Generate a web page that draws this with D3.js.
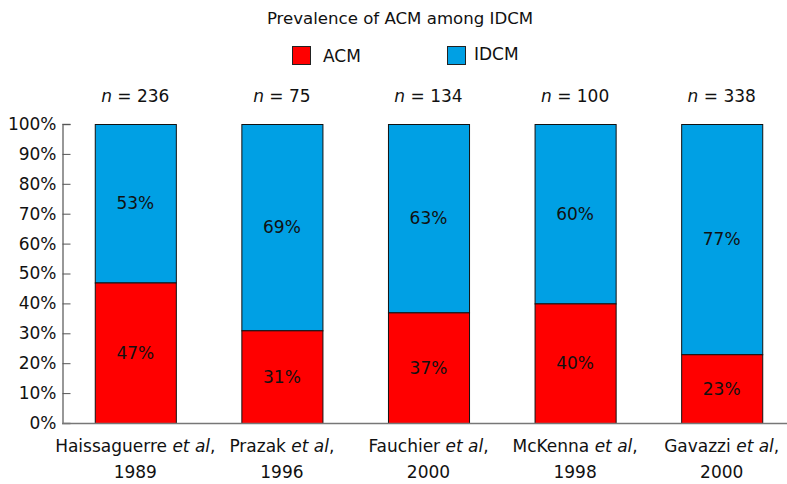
<!DOCTYPE html>
<html>
<head>
<meta charset="utf-8">
<script src="https://cdn.jsdelivr.net/npm/d3@7"></script>
<style>
body{margin:0;background:#fff;}
svg text{font-family:"DejaVu Sans",Verdana,sans-serif;fill:#111;}
</style>
</head>
<body>
<div id="container"></div>
<script>
var studies = ['Haissaguerre', 'Prazak', 'Fauchier', 'McKenna', 'Gavazzi'];
var years = ['1989', '1996', '2000', '1998', '2000'];
var nValues = [236, 75, 134, 100, 338];
var acm = [47, 31, 37, 40, 23];
var idcm = [53, 69, 63, 60, 77];
var yTicks = [0, 10, 20, 30, 40, 50, 60, 70, 80, 90, 100];

var colors = {acm:'#FF0000', idcm:'#00A0E4'};

var w = 787, h = 484;
var margin = {top:124, left:62, bottom:61};

var svg = d3.select('#container').append('svg')
	.attr('width', w)
	.attr('height', h);

var x = d3.scaleBand()
	.domain(studies)
	.range([margin.left, margin.left + 5*146.6])
	.paddingInner(0.447)
	.paddingOuter(0.2235);

var y = d3.scaleLinear()
	.domain([0, 100])
	.range([h - margin.bottom, margin.top]);

// title + legend
svg.append('text')
	.attr('x', 400).attr('y', 24)
	.attr('text-anchor', 'middle')
	.style('font-size', '16.6px')
	.text('Prevalence of ACM among IDCM');

var legend = [
	{name:'ACM', color:colors.acm, x:292},
	{name:'IDCM', color:colors.idcm, x:447}
];
var lg = svg.selectAll('g.legend').data(legend).enter().append('g')
	.classed('legend', true);
lg.append('rect')
	.attr('x', function(d){ return d.x + 0.5; })
	.attr('y', 46.5)
	.attr('width', 18).attr('height', 18)
	.style('fill', function(d){ return d.color; })
	.style('stroke', '#222');
lg.append('text')
	.attr('x', function(d, i){ return d.x + (i ? 27 : 31); })
	.attr('y', function(d, i){ return i ? 60 : 62; })
	.style('font-size', '17px')
	.text(function(d){ return d.name; });

// y axis
var yAxis = d3.axisLeft(y)
	.tickValues(yTicks)
	.tickSize(-8)
	.tickPadding(14)
	.tickFormat(function(d){ return d + '%'; });
var ya = svg.append('g')
	.attr('transform', 'translate(' + (margin.left + 0.5) + ',0)')
	.call(yAxis);
ya.select('.domain').attr('stroke', '#777').attr('stroke-width', 1.5);
ya.selectAll('.tick line').attr('stroke', '#555');
ya.selectAll('.tick text')
	.attr('x', -6)
	.style('font-size', '17px')
	.style('fill', '#111');

// bars
var rows = studies.map(function(s, i){
	return {study:s, year:years[i], n:nValues[i], acm:acm[i], idcm:idcm[i]};
});

var g = svg.selectAll('g.bar').data(rows).enter().append('g')
	.classed('bar', true);

g.append('rect')
	.attr('x', function(d){ return x(d.study) + 0.5; })
	.attr('y', function(d){ return y(d.acm + d.idcm) + 0.5; })
	.attr('width', x.bandwidth())
	.attr('height', function(d){ return y(d.acm) - y(d.acm + d.idcm); })
	.style('fill', colors.idcm)
	.style('stroke', '#111');

g.append('rect')
	.attr('x', function(d){ return x(d.study) + 0.5; })
	.attr('y', function(d){ return y(d.acm) + 0.5; })
	.attr('width', x.bandwidth())
	.attr('height', function(d){ return y(0) - y(d.acm); })
	.style('fill', colors.acm)
	.style('stroke', '#111');

g.append('text')
	.attr('x', function(d){ return x(d.study) + x.bandwidth()/2; })
	.attr('y', function(d){ return (y(d.acm + d.idcm) + y(d.acm))/2 + 6; })
	.attr('text-anchor', 'middle')
	.style('font-size', '17px')
	.text(function(d){ return d.idcm + '%'; });

g.append('text')
	.attr('x', function(d){ return x(d.study) + x.bandwidth()/2; })
	.attr('y', function(d){ return (y(d.acm) + y(0))/2 + 6; })
	.attr('text-anchor', 'middle')
	.style('font-size', '17px')
	.text(function(d){ return d.acm + '%'; });

// n labels
var nt = g.append('text')
	.attr('x', function(d){ return x(d.study) + x.bandwidth()/2; })
	.attr('y', 102)
	.attr('text-anchor', 'middle')
	.style('font-size', '17px');
nt.append('tspan').style('font-style', 'italic').text('n');
nt.append('tspan').text(function(d){ return ' = ' + d.n; });

// x axis line
svg.append('line')
	.attr('x1', margin.left).attr('x2', w)
	.attr('y1', y(0) + 0.5).attr('y2', y(0) + 0.5)
	.attr('stroke', '#777').attr('stroke-width', 1.5);

// category labels
var cl = g.append('text')
	.attr('x', function(d){ return x(d.study) + x.bandwidth()/2; })
	.attr('y', 452)
	.attr('text-anchor', 'middle')
	.style('font-size', '17px');
cl.append('tspan').text(function(d){ return d.study + ' '; });
cl.append('tspan').style('font-style', 'italic').text('et al');
cl.append('tspan').text(',');

g.append('text')
	.attr('x', function(d){ return x(d.study) + x.bandwidth()/2; })
	.attr('y', 478)
	.attr('text-anchor', 'middle')
	.style('font-size', '17px')
	.text(function(d){ return d.year; });
</script>
</body>
</html>
